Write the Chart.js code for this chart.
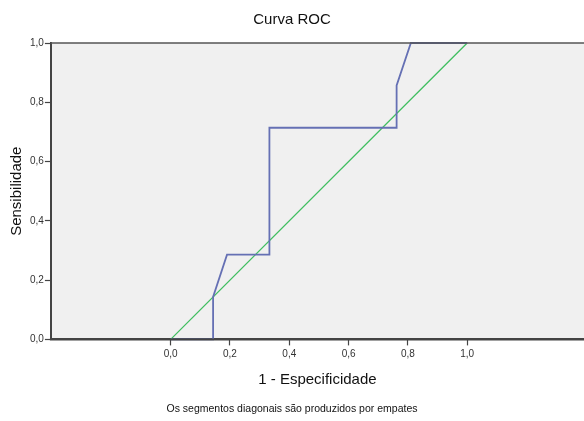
<!DOCTYPE html>
<html>
<head>
<meta charset="utf-8">
<script src="https://cdn.jsdelivr.net/npm/chart.js@4/dist/chart.umd.min.js"></script>
<style>
  html, body { margin: 0; padding: 0; background: #fff; }
  #wrap { width: 584px; height: 421px; }
</style>
</head>
<body>
<div id="wrap"><canvas id="roc"></canvas></div>
<script>
// curva ROC
const rocX = [0, 0.143, 0.143, 0.19, 0.333, 0.333, 0.762, 0.762, 0.81, 1.0];
const rocY = [0, 0, 0.143, 0.286, 0.286, 0.714, 0.714, 0.857, 1.0, 1.0];
// linha de referência
const refX = [0, 1];
const refY = [0, 1];
// marcas dos eixos
const xTicks = [0, 0.2, 0.4, 0.6, 0.8, 1.0];
const yTicks = [0, 0.2, 0.4, 0.6, 0.8, 1.0];

const FONT = "'Liberation Sans', Arial, Helvetica, sans-serif";
const fmt = v => Number(v).toFixed(1).replace('.', ',');
const toPoints = (xs, ys) => xs.map((x, i) => ({ x, y: ys[i] }));

// fundo cinza da área do gráfico + linha superior; eixo x redesenhado por cima das linhas
const plotBg = {
  id: 'plotBg',
  beforeDraw(chart) {
    const { ctx, chartArea: a } = chart;
    ctx.save();
    ctx.fillStyle = '#f0f0f0';
    ctx.fillRect(a.left, a.top, a.right - a.left, a.bottom - a.top);
    ctx.restore();
  },
  afterDatasetsDraw(chart) {
    const { ctx, chartArea: a } = chart;
    ctx.save();
    ctx.strokeStyle = '#555';
    ctx.lineWidth = 1.5;
    ctx.beginPath();
    ctx.moveTo(a.left, a.top);
    ctx.lineTo(a.right, a.top);
    ctx.stroke();
    ctx.strokeStyle = '#444';
    ctx.lineWidth = 2;
    ctx.beginPath();
    ctx.moveTo(a.left - 1, a.bottom);
    ctx.lineTo(a.right, a.bottom);
    ctx.stroke();
    ctx.restore();
  }
};

new Chart(document.getElementById('roc'), {
  type: 'scatter',
  data: {
    datasets: [
      {
        label: 'ROC',
        data: toPoints(rocX, rocY),
        showLine: true,
        borderColor: '#6570b4',
        borderWidth: 1.8,
        pointRadius: 0,
        fill: false,
        tension: 0,
        clip: 4
      },
      {
        label: 'Referência',
        data: toPoints(refX, refY),
        showLine: true,
        borderColor: '#3dbd5e',
        borderWidth: 1.3,
        pointRadius: 0,
        fill: false,
        clip: 4
      }
    ]
  },
  options: {
    responsive: true,
    maintainAspectRatio: false,
    animation: false,
    layout: { padding: { left: 0, right: 0, top: 0, bottom: 0 } },
    plugins: {
      legend: { display: false },
      tooltip: { enabled: false },
      title: {
        display: true,
        text: 'Curva ROC',
        color: '#111',
        font: { family: FONT, size: 15, weight: 'normal' },
        padding: { top: 11, bottom: 14 }
      },
      subtitle: {
        display: true,
        position: 'bottom',
        text: 'Os segmentos diagonais são produzidos por empates',
        color: '#111',
        font: { family: FONT, size: 10.5, weight: 'normal' },
        padding: { top: 14, bottom: 6 }
      }
    },
    scales: {
      x: {
        type: 'linear',
        min: -0.404,
        max: 1.394,
        afterBuildTicks: axis => { axis.ticks = xTicks.map(v => ({ value: v })); },
        ticks: {
          color: '#333',
          font: { family: FONT, size: 10 },
          padding: 3,
          maxRotation: 0,
          callback: v => fmt(v)
        },
        grid: {
          drawOnChartArea: false,
          drawTicks: true,
          tickLength: 6,
          tickColor: '#444',
          tickWidth: 1.2
        },
        border: { display: true, color: '#444', width: 2 },
        title: {
          display: true,
          text: '1 - Especificidade',
          color: '#111',
          font: { family: FONT, size: 15 },
          padding: { top: 7, bottom: 0 }
        }
      },
      y: {
        type: 'linear',
        min: 0,
        max: 1,
        afterBuildTicks: axis => { axis.ticks = yTicks.map(v => ({ value: v })); },
        ticks: {
          color: '#333',
          font: { family: FONT, size: 10 },
          padding: 1,
          callback: v => fmt(v)
        },
        grid: {
          drawOnChartArea: false,
          drawTicks: true,
          tickLength: 6,
          tickColor: '#444',
          tickWidth: 1.2
        },
        border: { display: true, color: '#444', width: 2 },
        title: {
          display: true,
          text: 'Sensibilidade',
          color: '#111',
          font: { family: FONT, size: 15 },
          padding: { top: 8, bottom: 3 }
        }
      }
    }
  },
  plugins: [plotBg]
});
</script>
</body>
</html>
